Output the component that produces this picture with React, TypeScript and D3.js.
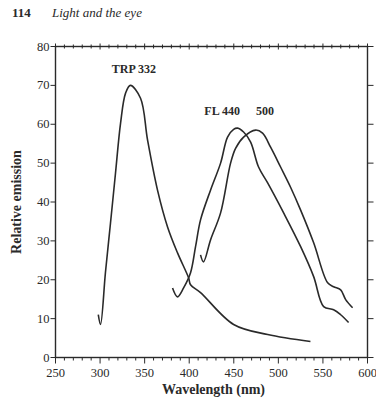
import * as d3 from "d3";

// Emission spectra: [wavelength nm, relative emission]
const trpCurve: [number, number][] = [
  [298, 11], [300.5, 8.5], [306, 21.8], [311.7, 34.6], [317.3, 47.4], [323, 60.3],
  [328.6, 68], [334, 70], [345.4, 66.7], [353.3, 55.9], [364.5, 43], [375.7, 33.6],
  [386.9, 26.9], [399.3, 20.5], [401.5, 18.7], [412.7, 16.7], [449.8, 8.5],
  [488, 5.9], [536, 4.1],
];
const fl440Curve: [number, number][] = [
  [381.3, 17.9], [386.9, 15.6], [393.7, 17.9], [401.5, 21.8], [407.1, 28.5],
  [412.7, 35.4], [424, 43.1], [435.2, 50], [443, 56.7], [449.8, 58.7], [454.3, 59],
  [461, 58], [468.9, 55.4], [477.8, 49], [488, 44.9], [505.9, 37.2], [525, 28.5],
  [539.6, 20.8], [550.8, 13.1], [562, 12.3], [569.9, 11], [578.8, 9],
];
const fl500Curve: [number, number][] = [
  [412.7, 26.4], [416, 24.6], [424, 30.3], [435.2, 37.2], [446.4, 50], [452, 53.8],
  [461, 56.7], [474.5, 58.5], [482.3, 57.7], [491.3, 54.1], [502.5, 49], [513.7, 43.8],
  [525, 37.9], [539.6, 29.5], [555.3, 19.2], [562, 18.2], [569.9, 17.4],
  [575.5, 14.9], [583.3, 12.8],
];
const curveLabels = [
  { text: "TRP 332", x: 338, y: 73.3 },
  { text: "FL 440", x: 437, y: 62.3 },
  { text: "500", x: 485, y: 62.3 },
];
const xTicks = [250, 300, 350, 400, 450, 500, 550, 600];
const yTicks = [0, 10, 20, 30, 40, 50, 60, 70, 80];

const W = 376;
const H = 401;
const serif = "'Liberation Serif', 'Times New Roman', serif";
const ink = "#2a2a2a";

export default function App() {
  const x = d3.scaleLinear().domain([250, 600]).range([55.5, 367.5]);
  const y = d3.scaleLinear().domain([0, 80]).range([357.5, 46.5]);
  const minor = d3.range(250, 601, 10);

  const line = d3
    .line<[number, number]>()
    .x((d) => x(d[0]))
    .y((d) => y(d[1]))
    .curve(d3.curveCatmullRom.alpha(0.5));

  return (
    <svg width={W} height={H} style={{ position: "absolute", left: 0, top: 0, background: "#fff" }}>
      {/* running head */}
      <text x={12} y={17} fontFamily={serif} fontWeight="bold" fontSize={13} fill={ink}>114</text>
      <text x={52} y={17} fontFamily={serif} fontStyle="italic" fontSize={13} fill={ink}>Light and the eye</text>

      {/* frame */}
      <rect x={x(250)} y={y(80)} width={x(600) - x(250)} height={y(0) - y(80)}
        fill="none" stroke={ink} strokeWidth={1.4} />

      {/* top and bottom ticks */}
      {minor.map((v) => {
        const major = v % 50 === 0;
        return (
          <g key={v} stroke={ink} strokeWidth={1}>
            <line x1={x(v)} x2={x(v)} y1={y(80) - (major ? 3 : 2)} y2={y(80) + (major ? 3 : 2)} />
            <line x1={x(v)} x2={x(v)} y1={y(0)} y2={y(0) + (major ? 6 : 3)} />
          </g>
        );
      })}
      {xTicks.map((v) => (
        <text key={v} x={x(v)} y={377} textAnchor="middle" fontFamily={serif} fontSize={12.5} fill={ink}>{v}</text>
      ))}

      {/* left and right ticks */}
      {yTicks.map((v) => (
        <g key={v}>
          <line x1={x(250) - 5} x2={x(250)} y1={y(v)} y2={y(v)} stroke={ink} strokeWidth={1} />
          <line x1={x(600)} x2={x(600) + 6} y1={y(v)} y2={y(v)} stroke={ink} strokeWidth={1} />
          <text x={x(250) - 6} y={y(v) + 4} textAnchor="end" fontFamily={serif} fontSize={12.5} fill={ink}>{v}</text>
        </g>
      ))}

      {/* axis titles */}
      <text transform={`translate(21,${(y(0) + y(80)) / 2}) rotate(-90)`} textAnchor="middle"
        fontFamily={serif} fontWeight="bold" fontSize={14} fill={ink}>Relative emission</text>
      <text x={(x(250) + x(600)) / 2 + 2} y={394} textAnchor="middle" fontFamily={serif}
        fontWeight="bold" fontSize={14} fill={ink}>Wavelength (nm)</text>

      {/* curves */}
      {[trpCurve, fl440Curve, fl500Curve].map((c, i) => (
        <path key={i} d={line(c) ?? ""} fill="none" stroke={ink} strokeWidth={1.6} strokeLinejoin="round" />
      ))}
      {curveLabels.map((l) => (
        <text key={l.text} x={x(l.x)} y={y(l.y)} textAnchor="middle" fontFamily={serif}
          fontWeight="bold" fontSize={12} fill={ink}>{l.text}</text>
      ))}
    </svg>
  );
}
